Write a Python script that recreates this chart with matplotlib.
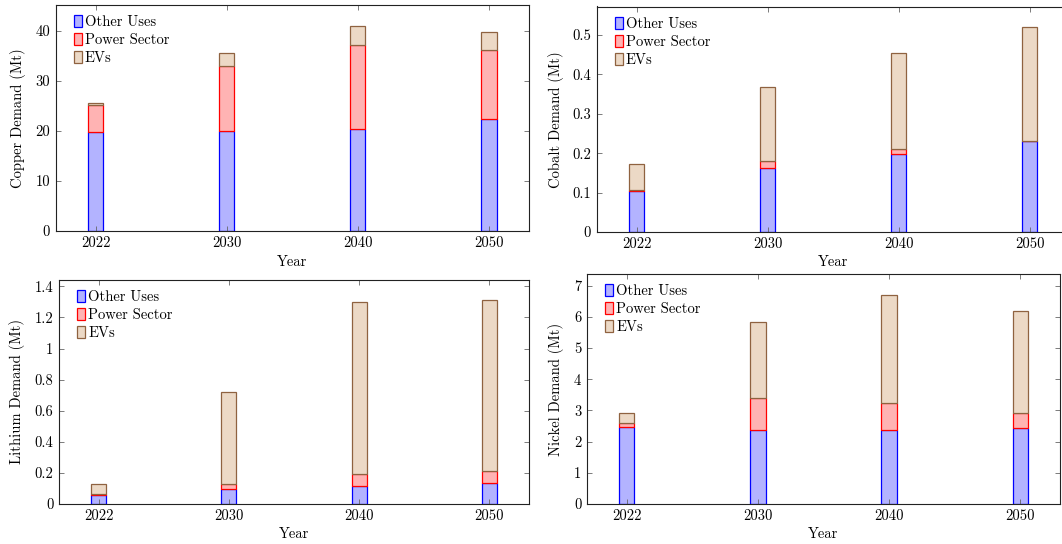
import matplotlib.pyplot as plt
from matplotlib.patches import Patch
from matplotlib.ticker import FuncFormatter, MultipleLocator

plt.rcParams['font.family'] = ['cmr10', 'DejaVu Serif']
plt.rcParams['axes.formatter.use_mathtext'] = True
plt.rcParams['font.size'] = 10.5

years = ['2022', '2030', '2040', '2050']

# demand by end use, Mt
copper_other = [19.8, 19.9, 20.3, 22.4]
copper_power = [5.3, 13.1, 16.8, 13.8]
copper_evs = [0.4, 2.6, 3.9, 3.6]

cobalt_other = [0.104, 0.163, 0.197, 0.230]
cobalt_power = [0.003, 0.017, 0.013, 0.001]
cobalt_evs = [0.065, 0.188, 0.245, 0.289]

lithium_other = [0.058, 0.095, 0.115, 0.135]
lithium_power = [0.005, 0.035, 0.080, 0.075]
lithium_evs = [0.067, 0.590, 1.105, 1.100]

nickel_other = [2.48, 2.37, 2.37, 2.44]
nickel_power = [0.12, 1.03, 0.88, 0.47]
nickel_evs = [0.33, 2.42, 3.45, 3.29]

series_names = ['Other Uses', 'Power Sector', 'EVs']
fills = [(0.7, 0.7, 1.0), (1.0, 0.7, 0.7), (0.925, 0.85, 0.775)]
edges = ['blue', 'red', '#8f6240']

W, H = 1062, 544
fig = plt.figure(figsize=(W / 100, H / 100), dpi=100)


def add_axes_px(left, top, right, bottom):
    return fig.add_axes([left / W, 1 - bottom / H, (right - left) / W, (bottom - top) / H])


def draw_panel(box, other, power, evs, ylabel, step, ylab_x, xlab_y):
    left, top, right, bottom = box
    ax = add_axes_px(*box)
    w_px, h_px = right - left, bottom - top
    x = list(range(len(years)))
    base = [0] * len(years)
    for vals, fc, ec in zip([other, power, evs], fills, edges):
        ax.bar(x, vals, 0.115, bottom=base, facecolor=fc, edgecolor=ec, linewidth=0.9)
        base = [b + v for b, v in zip(base, vals)]

    ax.set_xlim(-0.305, 3.305)
    ax.set_ylim(0, max(base) * 1.1)
    ax.set_xticks(x)
    ax.set_xticklabels(years)
    ax.yaxis.set_major_locator(MultipleLocator(step))
    ax.yaxis.set_major_formatter(FuncFormatter(lambda v, p: f'{v:g}'))
    ax.tick_params(direction='in', top=True, right=True, length=3.5, width=0.6,
                   color='#666', labelsize=10.5, pad=4)
    for s in ax.spines.values():
        s.set_linewidth(0.8)
        s.set_color('#222')

    ax.set_ylabel(ylabel, fontsize=10.5, va='center')
    ax.yaxis.set_label_coords(-(left - ylab_x) / w_px, 0.5)
    ax.set_xlabel('Year', fontsize=10.5, va='center')
    ax.xaxis.set_label_coords(0.5, -(xlab_y - bottom) / h_px)

    handles = [Patch(facecolor=fc, edgecolor=ec, linewidth=0.9) for fc, ec in zip(fills, edges)]
    ax.legend(handles, series_names, loc='upper left', frameon=False,
              bbox_to_anchor=(18 / w_px, 1 - 10 / h_px), borderpad=0, borderaxespad=0,
              handlelength=0.55, handleheight=0.9, handletextpad=0.22,
              labelspacing=0.27, fontsize=10.5)
    return ax


draw_panel((55.7, 5, 529, 231), copper_other, copper_power, copper_evs,
           'Copper Demand (Mt)', 10, 18, 262)
draw_panel((596.7, 6.5, 1069.7, 232), cobalt_other, cobalt_power, cobalt_evs,
           'Cobalt Demand (Mt)', 0.1, 556, 262)
draw_panel((59, 280, 529, 504), lithium_other, lithium_power, lithium_evs,
           'Lithium Demand (Mt)', 0.2, 17, 534)
draw_panel((587, 274, 1060, 504), nickel_other, nickel_power, nickel_evs,
           'Nickel Demand (Mt)', 1, 556, 534)

fig.savefig('out.png', dpi=100)
